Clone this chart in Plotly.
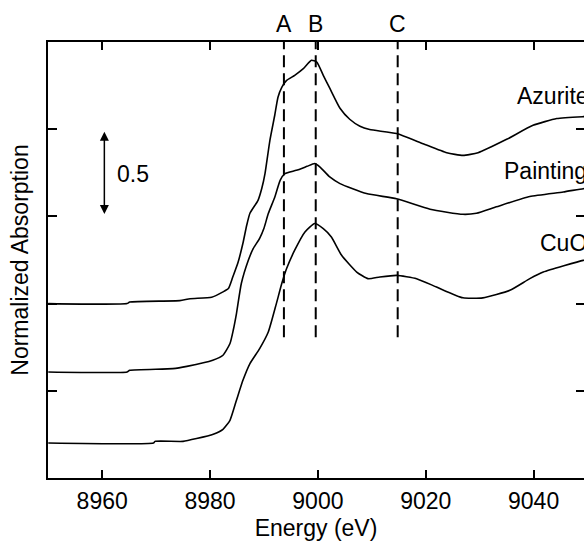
import plotly.graph_objects as go

# ---------------- data ----------------
azurite_e = [8950.0, 8964.6, 8965.1, 8974.4, 8976.3, 8980.3, 8982.4, 8983.4, 8984.2, 8985.2,
             8986.1, 8986.8, 8987.4, 8988.9, 8989.6, 8990.2, 8991.1, 8992.0, 8992.6, 8993.3,
             8994.2, 8995.7, 8997.3, 8998.8, 8999.8, 9001.0, 9002.2, 9004.1, 9005.9, 9007.8,
             9009.6, 9014.6, 9019.5, 9023.9, 9026.9, 9029.7, 9035.0, 9039.9, 9044.3, 9049.2, 9050.0]
azurite_a = [1.000, 1.000, 1.009, 1.017, 1.028, 1.036, 1.067, 1.086, 1.151, 1.237,
             1.346, 1.449, 1.518, 1.592, 1.661, 1.747, 1.936, 2.080, 2.183, 2.240,
             2.280, 2.309, 2.347, 2.395, 2.385, 2.309, 2.235, 2.120, 2.057, 2.017,
             1.998, 1.975, 1.917, 1.865, 1.850, 1.865, 1.942, 2.022, 2.061, 2.072, 2.073]

painting_e = [8950.0, 8964.6, 8965.1, 8973.1, 8975.7, 8980.5, 8982.4, 8983.7, 8984.3, 8984.9,
              8985.8, 8987.1, 8988.0, 8989.2, 8990.0, 8990.8, 8992.0, 8993.0, 8993.9, 8996.0,
              8998.0, 8999.4, 9000.4, 9002.2, 9004.1, 9009.0, 9014.6, 9020.8, 9026.9, 9029.4,
              9033.1, 9039.3, 9045.5, 9049.2, 9050.0]
painting_a = [0.608, 0.608, 0.618, 0.627, 0.640, 0.675, 0.704, 0.771, 0.847, 0.943,
              1.115, 1.248, 1.315, 1.374, 1.432, 1.516, 1.610, 1.707, 1.745, 1.764,
              1.787, 1.803, 1.783, 1.726, 1.688, 1.631, 1.601, 1.541, 1.512, 1.518,
              1.555, 1.614, 1.640, 1.659, 1.661]

cuo_e = [8950.0, 8969.5, 8969.8, 8975.0, 8977.5, 8980.6, 8982.4, 8983.7, 8984.9, 8986.1,
         8987.4, 8989.2, 8990.8, 8992.3, 8993.3, 8994.2, 8995.7, 8997.6, 8999.4, 9001.0,
         9002.5, 9004.4, 9007.2, 9009.3, 9011.5, 9014.6, 9018.3, 9022.0, 9026.9, 9030.6,
         9035.6, 9039.3, 9041.8, 9049.2, 9050.0]
cuo_a = [0.201, 0.201, 0.210, 0.210, 0.226, 0.251, 0.279, 0.331, 0.446, 0.560,
         0.656, 0.742, 0.837, 1.000, 1.115, 1.201, 1.306, 1.411, 1.459, 1.430,
         1.382, 1.277, 1.181, 1.143, 1.153, 1.162, 1.143, 1.095, 1.033, 1.033,
         1.076, 1.143, 1.181, 1.248, 1.252]

series_names = ["Azurite", "Painting", "CuO"]
marker_labels = ["A", "B", "C"]
marker_energies = [8993.7, 8999.6, 9014.8]
marker_bottom = 0.807
x_tick_values = [8960, 8980, 9000, 9020, 9040]
x_tick_labels = ["8960", "8980", "9000", "9020", "9040"]
y_tick_values = [0, 0.5, 1.0, 1.5, 2.0, 2.5]
scale_bar = [1.505, 1.985]   # 0.5 absorption units

FONT = "Liberation Sans, Arial, sans-serif"
FS = 23
x_range = [8949.95, 9049.35]
y_range = [0, 2.5]

fig = go.Figure()

for e, a in [(azurite_e, azurite_a), (painting_e, painting_a), (cuo_e, cuo_a)]:
    fig.add_trace(go.Scatter(x=e, y=a, mode="lines",
                             line=dict(color="black", width=1.6, shape="spline", smoothing=0.5),
                             showlegend=False, hoverinfo="skip"))

for e in marker_energies:
    fig.add_trace(go.Scatter(x=[e, e], y=[marker_bottom, y_range[1]], mode="lines",
                             line=dict(color="black", width=2, dash="12px,6px"),
                             showlegend=False, hoverinfo="skip"))

# invisible trace for the right-hand tick axis
fig.add_trace(go.Scatter(x=[x_range[0]], y=[0], yaxis="y2", mode="markers",
                         marker=dict(opacity=0), showlegend=False, hoverinfo="skip"))

annotations = []
for lab, e in zip(marker_labels, marker_energies):
    annotations.append(dict(x=e, y=1.042, xref="x", yref="paper", text=lab, showarrow=False,
                            font=dict(family=FONT, size=FS, color="black"),
                            xanchor="center", yanchor="middle"))

label_pos = [(9036.5, 2.189), (9034.1, 1.759), (9040.8, 1.346)]
for name, (lx, ly) in zip(series_names, label_pos):
    annotations.append(dict(x=lx, y=ly, xref="x", yref="y", text=name, showarrow=False,
                            font=dict(family=FONT, size=FS, color="black"),
                            xanchor="left", yanchor="middle"))

annotations.append(dict(x=8962.35, y=1.741, xref="x", yref="y", text="0.5", showarrow=False,
                        font=dict(family=FONT, size=FS, color="black"),
                        xanchor="left", yanchor="middle"))
annotations.append(dict(x=8960.4, y=scale_bar[1], ax=8960.4, ay=scale_bar[0],
                        xref="x", yref="y", axref="x", ayref="y", text="",
                        showarrow=True, arrowhead=2, startarrowhead=2, arrowside="end+start",
                        arrowsize=1.2, arrowwidth=1.5, arrowcolor="black",
                        standoff=0, startstandoff=0))

fig.update_layout(
    width=584, height=541,
    margin=dict(l=48, r=0, t=42, b=63),
    paper_bgcolor="white", plot_bgcolor="white",
    font=dict(family=FONT, size=FS, color="black"),
    annotations=annotations,
    hovermode=False,
    xaxis=dict(range=x_range, tickvals=x_tick_values, ticktext=x_tick_labels,
               showline=True, linecolor="black", linewidth=2, mirror="ticks",
               ticks="inside", ticklen=8, tickwidth=1.5, tickcolor="black",
               showgrid=False, zeroline=False, ticklabelstandoff=1,
               tickfont=dict(family=FONT, size=FS, color="black"),
               title=dict(text="Energy (eV)", font=dict(family=FONT, size=FS), standoff=11)),
    yaxis=dict(range=y_range, tickvals=y_tick_values, showticklabels=False,
               showline=True, linecolor="black", linewidth=2, mirror=False,
               ticks="inside", ticklen=9, tickwidth=1.5, tickcolor="black",
               showgrid=False, zeroline=False,
               title=dict(text="Normalized Absorption", font=dict(family=FONT, size=FS), standoff=11)),
    yaxis2=dict(range=y_range, tickvals=y_tick_values, showticklabels=False,
                overlaying="y", side="right", showline=False,
                ticks="inside", ticklen=8, tickwidth=1.5, tickcolor="black",
                showgrid=False, zeroline=False),
)

fig.write_html(
    "out.html",
    config={"displayModeBar": False},
    post_script=("document.body.style.margin='0';"
                 "document.body.style.overflow='hidden';"
                 "document.documentElement.style.overflow='hidden';"),
)
